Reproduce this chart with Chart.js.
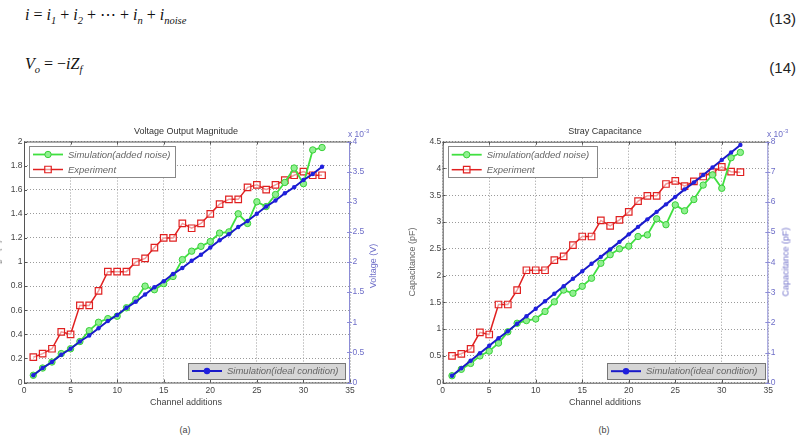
<!DOCTYPE html>
<html><head><meta charset="utf-8">
<script src="https://cdn.jsdelivr.net/npm/chart.js@4.4.1/dist/chart.umd.min.js"></script>
<style>
body{margin:0;background:#fff;width:801px;height:440px;overflow:hidden;position:relative;font-family:"Liberation Sans",Arial,sans-serif}
.abs{position:absolute;white-space:nowrap;line-height:1}
.eq{font-family:"Liberation Serif","DejaVu Serif",serif;font-style:italic;font-size:16px;color:#111}
.eq .u{font-style:normal}
.eq sub{font-size:10.5px;vertical-align:-4px;line-height:0}
.eqn{font-family:"Liberation Sans Narrow","Liberation Sans",Arial,sans-serif;font-size:15px;color:#222}
.c{transform:translate(-50%,-50%)}
.r{transform:translate(-50%,-50%) rotate(-90deg)}
.ttl{font-size:9px;color:#333}
.lbl{font-size:9px;color:#444}
.blu{color:#6e6ec8}
canvas{position:absolute}
</style></head>
<body>
<div class="abs eq" style="left:25px;top:7px">i <span class="u">=</span> i<sub>1</sub> <span class="u">+</span> i<sub>2</sub> <span class="u">+ ⋯ + </span> i<sub>n</sub> <span class="u">+</span> i<sub>noise</sub></div>
<div class="abs eqn" style="right:5px;top:11px">(13)</div>
<div class="abs eq" style="left:25px;top:56px">V<sub>o</sub> <span class="u">= −</span>iZ<sub>f</sub></div>
<div class="abs eqn" style="right:5px;top:60px">(14)</div>

<canvas id="ca" width="400" height="290" style="left:0;top:120px"></canvas>
<canvas id="cb" width="400" height="290" style="left:400px;top:120px"></canvas>

<div class="abs c ttl" style="left:186px;top:131px">Voltage Output Magnitude</div>
<div class="abs c ttl" style="left:605px;top:131px">Stray Capacitance</div>
<div class="abs blu" style="left:348px;top:128px;font-size:8.5px">x 10<sup style="font-size:6px">-3</sup></div>
<div class="abs blu" style="left:767px;top:128px;font-size:8.5px">x 10<sup style="font-size:6px">-3</sup></div>
<div class="abs r lbl" style="left:-3px;top:262px;color:#777">Voltage (V)</div>
<div class="abs r lbl blu" style="left:373px;top:266px">Voltage (V)</div>
<div class="abs r lbl" style="left:412px;top:262px;color:#666">Capacitance (pF)</div>
<div class="abs r lbl blu" style="left:786px;top:262px">Capacitance (pF)</div>
<div class="abs c lbl" style="left:186px;top:402px">Channel additions</div>
<div class="abs c lbl" style="left:605px;top:402px">Channel additions</div>
<div class="abs c lbl" style="left:185px;top:430px">(a)</div>
<div class="abs c lbl" style="left:604px;top:430px">(b)</div>

<script>
// ---------- data ----------
const channels = [1,2,3,4,5,6,7,8,9,10,11,12,13,14,15,16,17,18,19,20,21,22,23,24,25,26,27,28,29,30,31,32];
const voltIdeal = [0.06,0.12,0.17,0.23,0.28,0.34,0.39,0.45,0.51,0.56,0.62,0.67,0.73,0.79,0.84,0.90,0.95,1.01,1.06,1.12,1.18,1.23,1.29,1.34,1.40,1.46,1.51,1.57,1.62,1.68,1.73,1.79];
const voltNoise = [0.06,0.12,0.17,0.24,0.28,0.34,0.43,0.50,0.53,0.55,0.62,0.69,0.80,0.77,0.82,0.88,1.02,1.09,1.13,1.17,1.24,1.25,1.40,1.32,1.50,1.46,1.56,1.66,1.78,1.65,1.93,1.95];
const voltExp = [0.21,0.24,0.28,0.42,0.40,0.64,0.64,0.76,0.92,0.92,0.92,1.00,1.03,1.12,1.20,1.20,1.32,1.28,1.32,1.40,1.48,1.52,1.52,1.62,1.64,1.60,1.64,1.68,1.72,1.75,1.72,1.72];
const capIdeal = [0.13,0.27,0.41,0.55,0.69,0.83,0.96,1.10,1.24,1.38,1.52,1.66,1.80,1.94,2.08,2.22,2.35,2.49,2.63,2.77,2.91,3.05,3.19,3.33,3.47,3.61,3.74,3.88,4.02,4.16,4.30,4.44];
const capNoise = [0.13,0.25,0.36,0.50,0.59,0.74,0.95,1.11,1.16,1.19,1.33,1.51,1.73,1.67,1.80,1.95,2.23,2.39,2.50,2.55,2.73,2.76,3.06,2.95,3.32,3.21,3.42,3.69,3.88,3.63,4.20,4.30];
const capExp = [0.50,0.54,0.63,0.94,0.90,1.46,1.46,1.73,2.10,2.10,2.10,2.29,2.36,2.57,2.73,2.73,3.03,2.93,3.04,3.19,3.39,3.49,3.49,3.71,3.77,3.67,3.76,3.85,3.93,4.03,3.94,3.93];
const xTicks = [0,5,10,15,20,25,30,35];
const voltTicks = [0,0.2,0.4,0.6,0.8,1,1.2,1.4,1.6,1.8,2];
const voltRightTicks = [0,0.5,1,1.5,2,2.5,3,3.5,4];
const capTicks = [0,0.5,1,1.5,2,2.5,3,3.5,4,4.5];
const capRightTicks = [0,1,2,3,4,5,6,7,8];
const labels = ['Simulation(ideal condition)','Simulation(added noise)','Experiment'];

// ---------- helpers ----------
const FONT = '"Liberation Sans", Arial, sans-serif';
const pts = arr => channels.map((c,i)=>({x:c,y:arr[i]}));
const setTicks = arr => s => { s.ticks = arr.map(v=>({value:v})); };

function drawMarker(ctx, ds, x, y){
  ctx.save();
  ctx.lineWidth = ds.pointBorderWidth ?? 1;
  ctx.strokeStyle = ds.pointBorderColor || ds.borderColor;
  ctx.fillStyle = ds.pointBackgroundColor || ds.borderColor;
  const r = ds.pointRadius;
  ctx.beginPath();
  if (ds.pointStyle === 'rect'){ const h = r*Math.SQRT1_2; ctx.rect(x-h,y-h,2*h,2*h); }
  else ctx.arc(x,y,r,0,Math.PI*2);
  ctx.fill(); if (ctx.lineWidth>0) ctx.stroke();
  ctx.restore();
}

const framePlugin = {
  id:'frame',
  beforeDatasetsDraw(chart){
    const {ctx, chartArea:a, scales} = chart;
    ctx.save();
    ctx.lineWidth = 1;
    ctx.strokeStyle = '#555';
    ctx.beginPath();
    ctx.moveTo(a.right, a.top+0.5); ctx.lineTo(a.left+0.5, a.top+0.5);
    ctx.lineTo(a.left+0.5, a.bottom+0.5); ctx.lineTo(a.right, a.bottom+0.5);
    scales.y.ticks.forEach(t=>{ const p=Math.round(scales.y.getPixelForValue(t.value))+0.5; ctx.moveTo(a.left,p); ctx.lineTo(a.left+3,p); });
    scales.x.ticks.forEach(t=>{ const p=Math.round(scales.x.getPixelForValue(t.value))+0.5; ctx.moveTo(p,a.bottom); ctx.lineTo(p,a.bottom-3); ctx.moveTo(p,a.top); ctx.lineTo(p,a.top+3); });
    ctx.stroke();
    ctx.strokeStyle = '#8c8cd6';
    ctx.beginPath();
    ctx.moveTo(a.right-0.5, a.top); ctx.lineTo(a.right-0.5, a.bottom+1);
    scales.y2.ticks.forEach(t=>{ const p=Math.round(scales.y2.getPixelForValue(t.value))+0.5; ctx.moveTo(a.right-3,p); ctx.lineTo(a.right+2,p); });
    ctx.stroke();
    ctx.restore();
  }
};

const legendPlugin = {
  id:'boxLegends',
  afterDatasetsDraw(chart, args, opts){
    const {ctx, chartArea:a} = chart;
    (opts.boxes||[]).forEach(b=>{
      const x = b.anchor==='tl' ? a.left + b.dx : a.right - b.dx - b.w;
      const y = b.anchor==='tl' ? a.top + b.dy : a.bottom - b.dy - b.h;
      ctx.save();
      ctx.fillStyle = b.fill; ctx.fillRect(x,y,b.w,b.h);
      ctx.strokeStyle = b.stroke; ctx.lineWidth = 1; ctx.strokeRect(Math.round(x)+0.5,Math.round(y)+0.5,b.w,b.h);
      b.items.forEach((idx,i)=>{
        const ds = chart.data.datasets[idx];
        const ly = y + b.rowTop + i*b.rowH;
        ctx.strokeStyle = ds.borderColor; ctx.lineWidth = ds.borderWidth;
        ctx.beginPath(); ctx.moveTo(x+4,ly); ctx.lineTo(x+34,ly); ctx.stroke();
        drawMarker(ctx, ds, x+19, ly);
        ctx.fillStyle = b.textColor;
        ctx.font = 'italic 9.5px ' + FONT;
        ctx.textBaseline = 'middle'; ctx.textAlign = 'left';
        ctx.fillText(ds.label, x+39, ly+0.5);
      });
      ctx.restore();
    });
  }
};

function makeChart(id, ideal, noise, exp, yT, y2T, yMax, y2Max, dims, legW){
  const tickFont = {size:8.5, family:FONT};
  return new Chart(document.getElementById(id), {
    type:'line',
    data:{datasets:[
      {label:labels[0], data:pts(ideal), borderColor:'#1a1ac8', borderWidth:2, pointStyle:'circle', pointRadius:2.2, pointBackgroundColor:'#2020dd', pointBorderColor:'#2020dd', pointBorderWidth:0, tension:0},
      {label:labels[1], data:pts(noise), borderColor:'#40e040', borderWidth:1.8, pointStyle:'circle', pointRadius:3.2, pointBackgroundColor:'#90f090', pointBorderColor:'#38d038', pointBorderWidth:1, tension:0},
      {label:labels[2], data:pts(exp), borderColor:'#e02020', borderWidth:1.5, pointStyle:'rect', pointRadius:4.6, pointBackgroundColor:'rgba(255,255,255,0.55)', pointBorderColor:'#e02020', pointBorderWidth:1.2, tension:0}
    ]},
    options:{
      responsive:false, animation:false, events:[],
      layout:{padding:{top:dims.top,left:0,right:0,bottom:0}},
      plugins:{legend:{display:false}, title:{display:false}, tooltip:{enabled:false},
        boxLegends:{boxes:[
          {anchor:'tl', dx:5, dy:4.5, w:legW[0], h:31, rowTop:8.5, rowH:15, items:[1,2], fill:'#fff', stroke:'#888', textColor:'#666'},
          {anchor:'br', dx:dims.bdx, dy:3.5, w:legW[1], h:16, rowTop:8, rowH:15, items:[0], fill:'#d6d6d6', stroke:'#777', textColor:'#666'}
        ]}},
      scales:{
        x:{type:'linear', position:'bottom', min:0, max:35, afterBuildTicks:setTicks(xTicks), afterFit:s=>{s.height=dims.bottom;},
           grid:{color:'#9a9a9a', drawTicks:false, lineWidth:1}, border:{display:false, dash:[1,2]},
           ticks:{padding:3, color:'#444', font:tickFont, maxRotation:0, autoSkip:false, callback:v=>String(v)}},
        y:{type:'linear', position:'left', min:0, max:yMax, afterBuildTicks:setTicks(yT), afterFit:s=>{s.width=dims.left;},
           grid:{color:'#9a9a9a', drawTicks:false, lineWidth:1}, border:{display:false, dash:[1,2]},
           ticks:{padding:1.5, color:'#444', font:tickFont, autoSkip:false, callback:v=>String(v)}},
        y2:{type:'linear', position:'right', min:0, max:y2Max, afterBuildTicks:setTicks(y2T), afterFit:s=>{s.width=dims.right;},
           grid:{display:false, drawOnChartArea:false, drawTicks:false}, border:{display:false},
           ticks:{padding:2.5, color:'#6e6ec8', font:tickFont, autoSkip:false, callback:v=>String(v)}}
      }
    },
    plugins:[framePlugin, legendPlugin]
  });
}

makeChart('ca', voltIdeal, voltNoise, voltExp, voltTicks, voltRightTicks, 2, 4,
  {top:21.5, bottom:27.5, left:24, right:50, bdx:5}, [146,157]);
makeChart('cb', capIdeal, capNoise, capExp, capTicks, capRightTicks, 4.5, 8,
  {top:21.7, bottom:27.3, left:42.7, right:31.7, bdx:3.3}, [149,158]);
</script>
</body></html>
